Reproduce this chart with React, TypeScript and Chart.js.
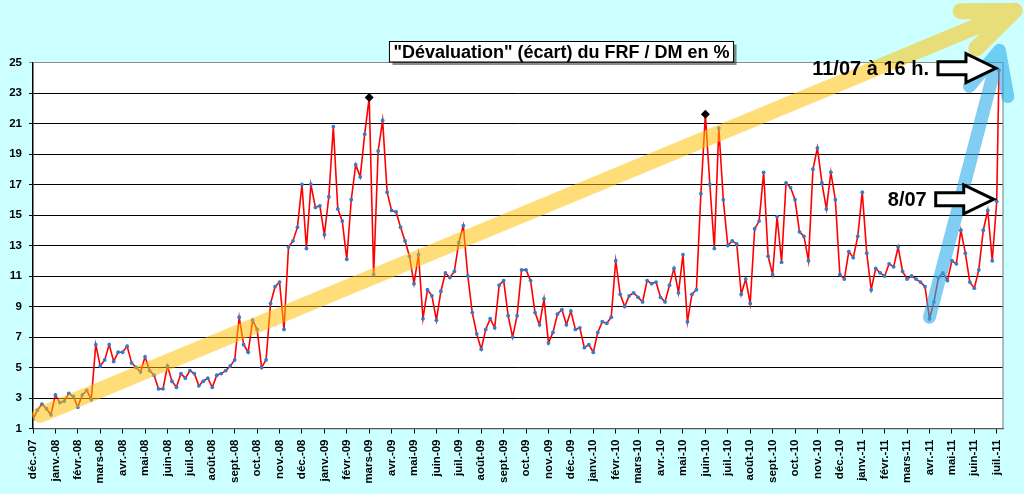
import React, { useEffect, useRef } from "react";
import { Chart, registerables } from "chart.js";

Chart.register(...registerables);

// month tick labels, one per month start (x = month index)
const monthLabels = [
  "déc.-07", "janv.-08", "févr.-08", "mars-08", "avr.-08", "mai-08", "juin-08", "juil.-08",
  "août-08", "sept.-08", "oct.-08", "nov.-08", "déc.-08", "janv.-09", "févr.-09", "mars-09",
  "avr.-09", "mai-09", "juin-09", "juil.-09", "août-09", "sept.-09", "oct.-09", "nov.-09",
  "déc.-09", "janv.-10", "févr.-10", "mars-10", "avr.-10", "mai-10", "juin-10", "juil.-10",
  "août-10", "sept.-10", "oct.-10", "nov.-10", "déc.-10", "janv.-11", "févr.-11", "mars-11",
  "avr.-11", "mai-11", "juin-11", "juil.-11",
];

// écart FRF / DM en %, five readings per month (step = 0.2 month)
const STEP = 0.2;
const values0708 = [
  1.6, 2.2, 2.6, 2.3, 1.9, 3.2, 2.7, 2.8, 3.3, 3.1, 2.4, 3.2, 3.5, 2.9, 6.5,
  5.1, 5.5, 6.5, 5.4, 6.0, 6.0, 6.4, 5.3, 5.0, 4.7, 5.7, 4.8, 4.5, 3.6, 3.6,
  5.1, 4.1, 3.7, 4.6, 4.3, 4.8, 4.6, 3.8, 4.1, 4.3, 3.7, 4.5, 4.6, 4.8, 5.1,
  5.5, 8.3, 6.5, 6.0, 8.1, 7.5, 5.0, 5.5, 9.2, 10.3, 10.6, 7.5, 12.9, 13.3, 14.2,
];
const values0809 = [
  17.0, 12.8, 17.0, 15.5, 15.6, 13.7, 16.2, 20.8, 15.4, 14.6, 12.1, 16.0, 18.3, 17.5, 20.3,
  22.7, 11.1, 19.2, 21.2, 16.5, 15.3, 15.2, 14.2, 13.3, 12.3, 10.5, 12.4, 8.2, 10.1, 9.7,
  8.1, 10.0, 11.2, 10.9, 11.3, 13.2, 14.3, 11.0, 8.6, 7.2, 6.2, 7.5, 8.2, 7.6, 10.4,
  10.7, 8.4, 7.0, 8.4, 11.4, 11.4, 10.7, 8.6, 7.8, 9.5, 6.6, 7.3, 8.5, 8.8, 7.8,
];
const values0910 = [
  8.7, 7.5, 7.6, 6.3, 6.5, 6.0, 7.3, 8.0, 7.9, 8.3, 12.0, 9.8, 9.0, 9.7, 9.9,
  9.6, 9.3, 10.7, 10.5, 10.6, 9.6, 9.3, 10.4, 11.5, 9.9, 12.4, 8.0, 9.8, 10.1, 16.4,
  21.6, 17.0, 12.8, 20.7, 16.0, 13.0, 13.3, 13.1, 9.8, 10.8, 9.2, 14.1, 14.6, 17.8, 12.3,
  11.1, 14.9, 11.9, 17.1, 16.8, 16.0, 13.9, 13.6, 12.0, 18.0, 19.4, 17.1, 15.4, 17.8, 16.0,
];
const values1011 = [
  11.1, 10.8, 12.6, 12.2, 13.6, 16.5, 12.5, 10.1, 11.5, 11.2, 11.0, 11.8, 11.6, 12.9, 11.3,
  10.8, 11.0, 10.8, 10.6, 10.3, 8.2, 9.3, 10.9, 11.2, 10.7, 12.0, 11.8, 14.0, 12.5, 10.6,
  10.2, 11.4, 14.0, 15.3, 12.0, 15.9,
];
// 11/07 à 16 h.
const lastMonth = 43.1;
const lastValue = 24.5;

// highest points of 2009 and 2010 (black diamonds)
const peakMonths = [15, 30];
const peakValues = [22.7, 21.6];

const yTicks = [1, 3, 5, 7, 9, 11, 13, 15, 17, 19, 21, 23, 25];

const FONT = '"Liberation Sans", Arial, sans-serif';

function thickArrow(ctx: CanvasRenderingContext2D, x0: number, y0: number, x1: number, y1: number,
  color: string, width: number, armLen: number, armDeg: number) {
  const back = Math.atan2(y0 - y1, x0 - x1);
  const a = (armDeg * Math.PI) / 180;
  ctx.save();
  ctx.beginPath();
  ctx.moveTo(x0, y0);
  ctx.lineTo(x1, y1);
  ctx.moveTo(x1 + armLen * Math.cos(back + a), y1 + armLen * Math.sin(back + a));
  ctx.lineTo(x1, y1);
  ctx.lineTo(x1 + armLen * Math.cos(back - a), y1 + armLen * Math.sin(back - a));
  ctx.strokeStyle = color;
  ctx.lineWidth = width;
  ctx.lineCap = "round";
  ctx.lineJoin = "round";
  ctx.stroke();
  ctx.restore();
}

function hollowArrow(ctx: CanvasRenderingContext2D, tipX: number, cy: number, label: string) {
  const sx = tipX - 58;
  const hx = tipX - 30;
  const sh = 6.5;
  const hh = 14.5;
  ctx.save();
  ctx.beginPath();
  ctx.moveTo(sx, cy - sh);
  ctx.lineTo(hx, cy - sh);
  ctx.lineTo(hx, cy - hh);
  ctx.lineTo(tipX, cy);
  ctx.lineTo(hx, cy + hh);
  ctx.lineTo(hx, cy + sh);
  ctx.lineTo(sx, cy + sh);
  ctx.closePath();
  ctx.fillStyle = "#fff";
  ctx.fill();
  ctx.lineWidth = 3;
  ctx.strokeStyle = "#000";
  ctx.lineJoin = "miter";
  ctx.stroke();
  ctx.font = `bold 20px ${FONT}`;
  ctx.fillStyle = "#000";
  ctx.textAlign = "right";
  ctx.textBaseline = "alphabetic";
  ctx.fillText(label, sx - 9, cy + 7);
  ctx.restore();
}

const decorations = {
  id: "decorations",
  beforeDraw(chart: Chart) {
    const { ctx, chartArea } = chart;
    ctx.save();
    ctx.fillStyle = "#fff";
    ctx.fillRect(chartArea.left, chartArea.top, chartArea.right - chartArea.left, chartArea.bottom - chartArea.top);
    ctx.restore();
  },
  afterDraw(chart: Chart) {
    const { ctx, chartArea } = chart;
    const x = chart.scales.x;
    const y = chart.scales.y;

    // plot frame (top / right)
    ctx.save();
    ctx.strokeStyle = "#8c8c8c";
    ctx.lineWidth = 1.2;
    ctx.beginPath();
    ctx.moveTo(chartArea.left, chartArea.top);
    ctx.lineTo(chartArea.right, chartArea.top);
    ctx.lineTo(chartArea.right, chartArea.bottom);
    ctx.stroke();
    ctx.restore();

    // trend arrows
    thickArrow(ctx, x.getPixelForValue(0.31), y.getPixelForValue(1.9),
      x.getPixelForValue(43.8), y.getPixelForValue(28.4), "rgba(255, 192, 0, 0.52)", 16, 54, 22);
    thickArrow(ctx, x.getPixelForValue(40.0), y.getPixelForValue(8.3),
      x.getPixelForValue(43.12), y.getPixelForValue(25.8), "rgba(40, 170, 235, 0.58)", 13, 47, 25);

    // pointers to 8/07 and 11/07
    const lastX = x.getPixelForValue(lastMonth);
    const lastY = y.getPixelForValue(lastValue);
    hollowArrow(ctx, lastX - 3, lastY - 2, "11/07 à 16 h.");
    const idx87 = values1011.length - 1;
    const px87 = x.getPixelForValue((values0708.length + values0809.length + values0910.length + idx87) * STEP);
    const py87 = y.getPixelForValue(values1011[idx87]);
    hollowArrow(ctx, px87 - 3, py87 - 2, "8/07");

    // title box
    const title = '"Dévaluation" (écart) du FRF / DM en %';
    ctx.save();
    ctx.font = `bold 18px ${FONT}`;
    const tw = ctx.measureText(title).width;
    const cx = 561.5;
    const bx = cx - tw / 2 - 4;
    const by = 41.5;
    const bw = tw + 8;
    const bh = 20.5;
    ctx.fillStyle = "rgba(0,0,0,0.45)";
    ctx.fillRect(bx + 3, by + 3, bw, bh);
    ctx.fillStyle = "#fff";
    ctx.fillRect(bx, by, bw, bh);
    ctx.strokeStyle = "#000";
    ctx.lineWidth = 1;
    ctx.strokeRect(bx, by, bw, bh);
    ctx.fillStyle = "#000";
    ctx.textAlign = "center";
    ctx.textBaseline = "middle";
    ctx.fillText(title, cx, by + bh / 2 + 1);
    ctx.restore();
  },
};

export default function App() {
  const chartRef = useRef<HTMLCanvasElement | null>(null);
  const chartInstanceRef = useRef<Chart | null>(null);

  useEffect(() => {
    if (!chartRef.current) return;
    const ctx = chartRef.current.getContext("2d");
    if (!ctx) return;

    if (chartInstanceRef.current) {
      chartInstanceRef.current.destroy();
    }

    const allValues = [...values0708, ...values0809, ...values0910, ...values1011];
    const series = allValues.map((v, i) => ({ x: i * STEP, y: v }));
    series.push({ x: lastMonth, y: lastValue });
    const peaks = peakMonths.map((m, i) => ({ x: m, y: peakValues[i] }));

    chartInstanceRef.current = new Chart(ctx, {
      type: "line",
      data: {
        datasets: [
          {
            label: "pics",
            data: peaks,
            showLine: false,
            pointStyle: "rectRot",
            pointRadius: 4.5,
            pointBackgroundColor: "#000",
            pointBorderColor: "#000",
            pointBorderWidth: 0,
          },
          {
            label: "FRF / DM",
            data: series,
            borderColor: "#ff0000",
            borderWidth: 1.6,
            tension: 0,
            pointRadius: 1.9,
            pointBackgroundColor: "#2f7dcc",
            pointBorderWidth: 0,
          },
        ],
      },
      plugins: [decorations],
      options: {
        animation: false,
        responsive: true,
        maintainAspectRatio: false,
        events: [],
        layout: { padding: { top: 62.5, right: 21, left: 0, bottom: 0 } },
        plugins: {
          legend: { display: false },
          tooltip: { enabled: false },
        },
        scales: {
          x: {
            type: "linear",
            min: 0,
            max: 43.28,
            afterBuildTicks: (scale: any) => {
              scale.ticks = monthLabels.map((_, i) => ({ value: i }));
            },
            afterFit: (scale: any) => {
              scale.height = 65.5;
            },
            ticks: {
              autoSkip: false,
              minRotation: 90,
              maxRotation: 90,
              padding: 6,
              color: "#000",
              font: { family: FONT, size: 11.5, weight: "bold" },
              callback: (v: any) => monthLabels[Math.round(Number(v))] ?? "",
            },
            grid: {
              drawOnChartArea: false,
              drawTicks: true,
              tickLength: 5,
              color: "#000",
            },
            border: { color: "#555", width: 1.2 },
          },
          y: {
            type: "linear",
            min: 1,
            max: 25,
            afterBuildTicks: (scale: any) => {
              scale.ticks = yTicks.map((v) => ({ value: v }));
            },
            afterFit: (scale: any) => {
              scale.width = 33;
            },
            ticks: {
              padding: 7,
              color: "#000",
              font: { family: FONT, size: 11.5, weight: "bold" },
            },
            grid: {
              color: (c: any) => (c.tick && c.tick.value === 25 ? "#8c8c8c" : "#000"),
              lineWidth: 1,
              tickLength: 4,
            },
            border: { color: "#000", width: 1.5 },
          },
        },
      },
    });

    return () => {
      if (chartInstanceRef.current) {
        chartInstanceRef.current.destroy();
        chartInstanceRef.current = null;
      }
    };
  }, []);

  return (
    <div
      style={{
        position: "fixed",
        left: 0,
        top: 0,
        width: 1024,
        height: 494,
        background: "#ccffff",
      }}
    >
      <canvas ref={chartRef} style={{ width: "100%", height: "100%" }} />
    </div>
  );
}
